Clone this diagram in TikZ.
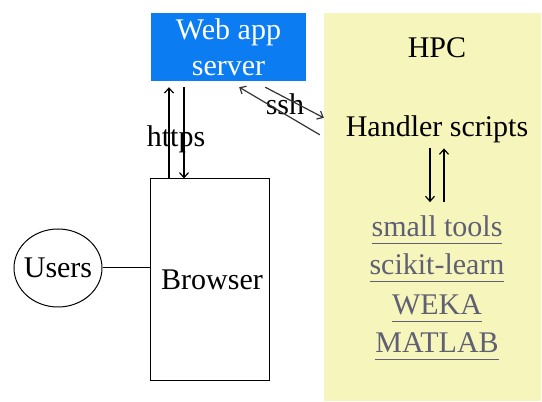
\documentclass[tikz,border=0pt]{standalone}
\usepackage{fontspec}
\setmainfont{Liberation Serif}
\usetikzlibrary{arrows.meta,
  calc,
  positioning,
  shapes.geometric
}
\definecolor{serverblue}{RGB}{12,124,243}
\definecolor{hpcyellow}{RGB}{246,245,187}
\definecolor{linkgray}{RGB}{96,96,116}
\tikzstyle{bigtext} = [font=\fontsize{30}{36}\selectfont]
\tikzstyle{link} = [bigtext, linkgray, anchor=base, inner xsep=0pt]
\tikzstyle{wire} = [line width=1.2, -{Straight Barb[length=5pt, width=9pt]}]
\newcommand{\ulink}[1]{\setbox0\hbox{#1}\rlap{\rule[-7pt]{\wd0}{1.1pt}}\box0}

\begin{document}
\begin{tikzpicture}[x=1pt, y=1pt]
  \useasboundingbox (0, 0) rectangle (542, 402);
  \node[draw=none, fill=hpcyellow, minimum width=217, minimum height=388,
    inner sep=0] (hpc) at (432.5, 195) {};
  \node[fill=serverblue, text=white, bigtext, align=center, minimum width=155,
    minimum height=68, inner sep=0] (webapp) at (228.5, 355) {Web app\\server};
  \node[draw, line width=1, minimum width=119, minimum height=202, bigtext,
    inner sep=0] (browser) at (209.5, 122) {\hspace{5pt}Browser};
  \node[draw, ellipse, line width=1, minimum width=88, minimum height=78,
    bigtext, inner sep=0] (users) at (58, 134) {\makebox[40pt]{Users}};

  \path (437, 344) node[bigtext, anchor=base] (hpclabel) {HPC};
  \path (437, 265) node[bigtext, anchor=base] (handler) {Handler scripts};
  \path (437, 165) node[link] (tools) {\ulink{small tools}};
  \path (437, 127) node[link] (scikit) {\ulink{scikit-learn}};
  \path (437, 87) node[link] (weka) {\ulink{WEKA}};
  \path (437, 49) node[link] (matlab) {\ulink{MATLAB}};

  \path (176, 255) node[bigtext, anchor=base] (https) {https};
  \path (285, 287) node[bigtext, anchor=base] (ssh) {ssh};

  % browser <-> web app server
  \draw[wire, shorten >=6] ([xshift=-40.5]browser.north)
    -- ([xshift=-40.5]browser.north |- webapp.south);
  \draw[wire, shorten <=6] ([xshift=-25.5]browser.north |- webapp.south)
    -- ([xshift=-25.5]browser.north);

  % web app server <-> hpc
  \draw[wire, black!80] ($(webapp.south east) + (-41, -6)$)
    -- ($(hpc.north west) + (0, -105)$);
  \draw[wire, black!80] ($(hpc.north west) + (-4, -122)$)
    -- ($(webapp.south east) + (-67, -6)$);

  % handler <-> tools
  \draw[wire] ([xshift=-7, yshift=-1.5]handler.south)
    -- ([xshift=-7, yshift=10.5]tools.north);
  \draw[wire] ([xshift=7, yshift=10.5]tools.north)
    -- ([xshift=7, yshift=-1.5]handler.south);

  \draw[line width=1] (users.east) -- (users.east -| browser.west);
\end{tikzpicture}
\end{document}
